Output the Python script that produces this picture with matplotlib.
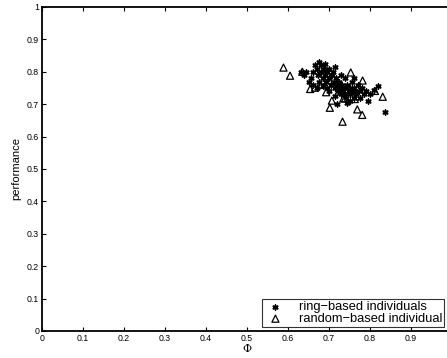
import matplotlib
matplotlib.use("Agg")
import matplotlib.pyplot as plt

plt.rcParams['font.family'] = ['Liberation Sans', 'DejaVu Sans']

ring_x = [0.655, 0.66, 0.665, 0.67, 0.672, 0.675, 0.68, 0.68, 0.685, 0.688, 0.69, 0.692, 0.695,
          0.70, 0.70, 0.705, 0.708, 0.71, 0.712, 0.715, 0.718, 0.72, 0.722, 0.725, 0.728, 0.73,
          0.732, 0.735, 0.738, 0.74, 0.742, 0.745, 0.748, 0.75, 0.752, 0.755, 0.758, 0.76, 0.762,
          0.765, 0.77, 0.772, 0.775, 0.78, 0.785, 0.79, 0.795, 0.80, 0.645, 0.65, 0.64, 0.632,
          0.66, 0.67, 0.685, 0.695, 0.70, 0.72, 0.82, 0.837, 0.73, 0.74, 0.715, 0.69, 0.675,
          0.75, 0.76, 0.81, 0.715, 0.745]
ring_y = [0.78, 0.80, 0.82, 0.81, 0.79, 0.77, 0.80, 0.82, 0.78, 0.81, 0.79, 0.77, 0.80,
          0.78, 0.81, 0.76, 0.79, 0.80, 0.77, 0.75, 0.78, 0.76, 0.74, 0.77, 0.75, 0.73,
          0.76, 0.74, 0.75, 0.73, 0.72, 0.76, 0.74, 0.75, 0.73, 0.77, 0.74, 0.72, 0.75,
          0.73, 0.76, 0.74, 0.72, 0.75, 0.73, 0.74, 0.71, 0.73, 0.80, 0.77, 0.79, 0.80,
          0.76, 0.75, 0.755, 0.75, 0.74, 0.70, 0.757, 0.675, 0.79, 0.78, 0.815, 0.825, 0.83,
          0.71, 0.78, 0.745, 0.725, 0.705]

rand_x = [0.589, 0.605, 0.635, 0.654, 0.666, 0.693, 0.707, 0.702, 0.733, 0.735, 0.753, 0.782,
          0.812, 0.831, 0.769, 0.781, 0.763, 0.739, 0.72, 0.745, 0.68, 0.70]
rand_y = [0.813, 0.788, 0.80, 0.747, 0.751, 0.737, 0.711, 0.689, 0.646, 0.718, 0.798, 0.773,
          0.741, 0.723, 0.684, 0.667, 0.716, 0.718, 0.76, 0.745, 0.76, 0.775]

xticks = [0, 0.1, 0.2, 0.3, 0.4, 0.5, 0.6, 0.7, 0.8, 0.9]
xticklabels = ['0', '0.1', '0.2', '0.3', '0.4', '0.5', '0.6', '0.7', '0.8', '0.9']
yticks = [0, 0.1, 0.2, 0.3, 0.4, 0.5, 0.6, 0.7, 0.8, 0.9, 1]
yticklabels = ['0', '0.1', '0.2', '0.3', '0.4', '0.5', '0.6', '0.7', '0.8', '0.9', '1']

W, H = 447, 358
fig = plt.figure(figsize=(W / 100, H / 100), dpi=100)
left, right, top, bottom = 42, 452, 7, 331
ax = fig.add_axes([left / W, 1 - bottom / H, (right - left) / W, (bottom - top) / H])

ax.scatter(ring_x, ring_y, marker=(6, 2, 0), s=13, c='black', linewidths=1.1,
           label='ring\u2212based individuals', zorder=3)
ax.scatter(rand_x, rand_y, marker='^', s=26, facecolors='none', edgecolors='black',
           linewidths=0.9, label='random\u2212based individual', zorder=3)

ax.set_xlim(0, 1)
ax.set_ylim(0, 1)
ax.set_xticks(xticks)
ax.set_xticklabels(xticklabels)
ax.set_yticks(yticks)
ax.set_yticklabels(yticklabels)
ax.tick_params(direction='in', length=3, width=0.8, labelsize=6.3, top=True, right=True, pad=2)
for s in ax.spines.values():
    s.set_linewidth(1.3)

ax.set_xlabel('\u03a6', fontsize=8, labelpad=1, family=['DejaVu Serif'])
ax.set_ylabel('performance', fontsize=8, labelpad=4)

leg = ax.legend(loc='lower right', bbox_to_anchor=(444 / W, 1 - 327 / H),
                bbox_transform=fig.transFigure, fontsize=9.3, frameon=True, fancybox=False,
                edgecolor='black', borderpad=0.15, labelspacing=0.0, handletextpad=0.9,
                handlelength=1.8, borderaxespad=0)
leg.get_frame().set_linewidth(0.8)

fig.savefig('out.png', dpi=100)
